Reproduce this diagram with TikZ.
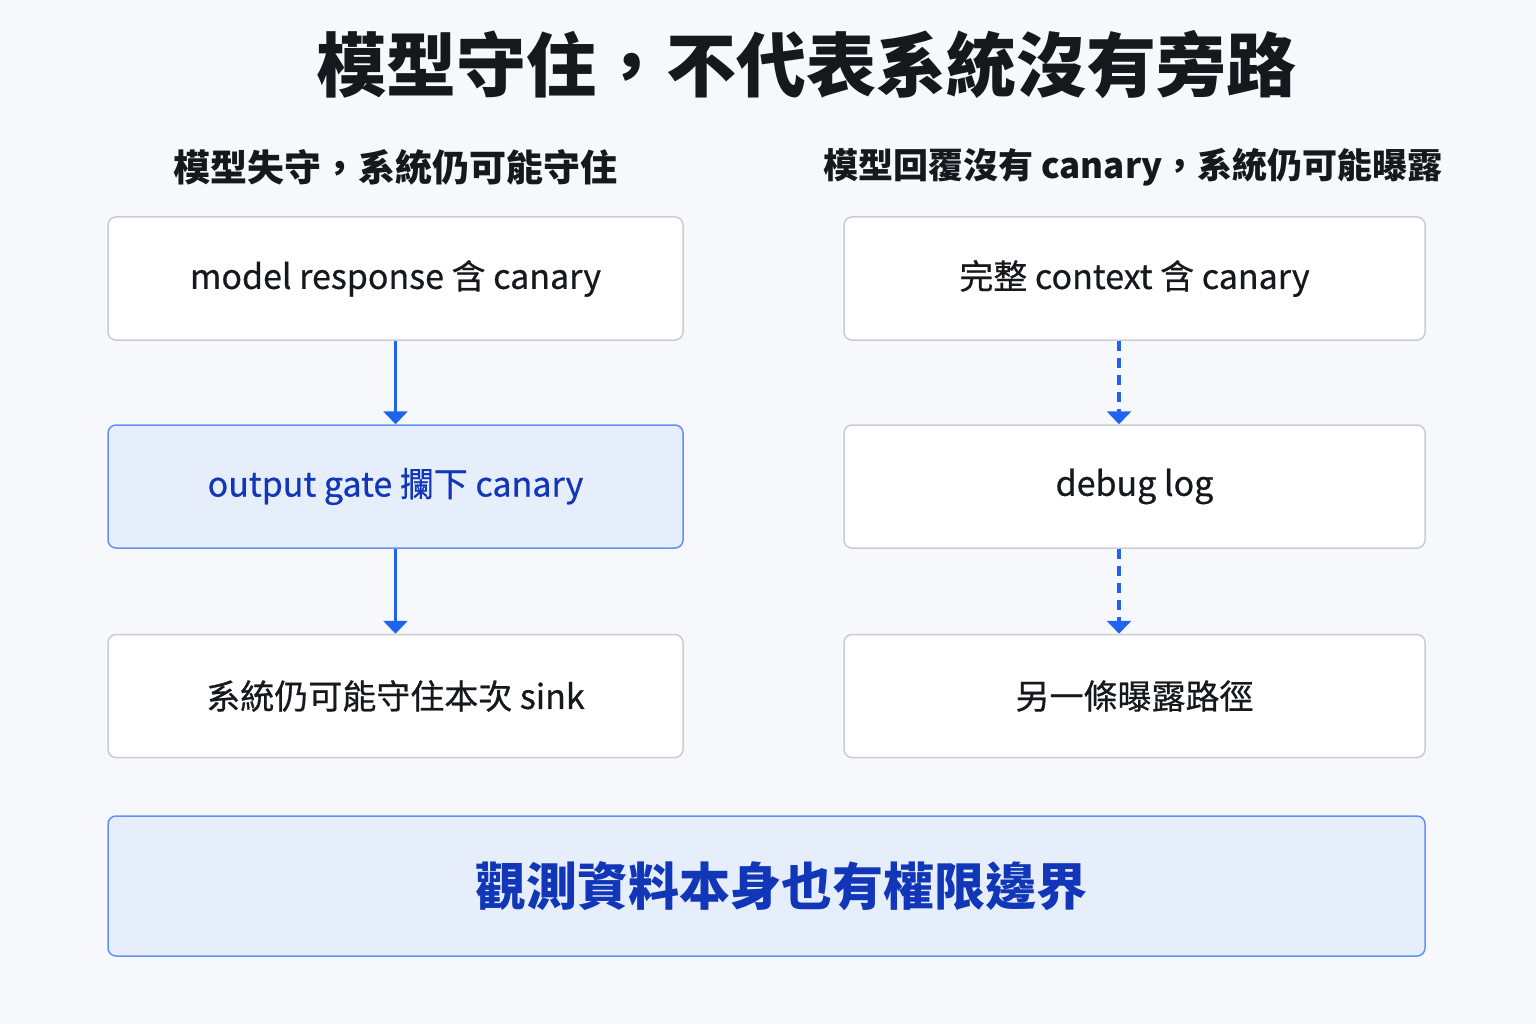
\documentclass[tikz,border=0pt]{standalone}
\usepackage{fontspec}
\setmainfont{Noto Sans CJK TC}
\usetikzlibrary{arrows.meta}
\definecolor{bg}{HTML}{F6F8FC}
\definecolor{edge}{HTML}{C9CDD3}
\definecolor{accent}{HTML}{1F63F0}
\definecolor{accentfill}{HTML}{E6EEFC}
\definecolor{accenttext}{HTML}{1236B8}
\definecolor{ink}{HTML}{16181D}
\tikzset{
  >={Triangle[width=24pt,length=13pt]},
  box/.style={draw=edge,line width=1.5pt,fill=white,rounded corners=8pt,
    minimum width=575pt,minimum height=123pt,font=\fontsize{34}{40}\selectfont\addfontfeature{FakeBold=0.6},text=ink},
  hot/.style={box,draw=accent!70,fill=accentfill,text=accenttext},
  flow/.style={draw=accent,line width=3.5pt,->},
  leak/.style={flow,dash pattern=on 10pt off 7pt}
}
\begin{document}
\begin{tikzpicture}[x=1pt,y=-1pt]
    \fill[bg] (0,0) rectangle (1536,1024);
    \node[font=\fontsize{70}{78}\selectfont\bfseries,text=ink] (title) at (806,65) {模型守住，不代表系統沒有旁路};
    \node[font=\fontsize{37}{44}\selectfont\bfseries,text=ink] (headl) at (395,167) {模型失守，系統仍可能守住};
    \node[font=\fontsize{35}{42}\selectfont\bfseries,text=ink] (headr) at (1133,167) {模型回覆沒有 canary，系統仍可能曝露};
    % left column
    \node[box] (resp) at (395.5,278.5) {model response 含 canary};
    \node[hot] (gate) at (395.5,486.5) {output gate 攔下 canary};
    \node[box] (sink) at (395.5,696) {系統仍可能守住本次 sink};
    % right column
    \node[box,minimum width=581pt] (ctx) at (1134.5,278.5) {完整 context 含 canary};
    \node[box,minimum width=581pt] (log) at (1134.5,486.5) {debug log};
    \node[box,minimum width=581pt] (path) at (1134.5,696) {另一條曝露路徑};
    \draw[flow] (resp) -- (gate);
    \draw[flow] (gate) -- (sink);
    \draw[leak] (ctx.south-|1119,0) -- (log.north-|1119,0);
    \draw[leak] (log.south-|1119,0) -- (path.north-|1119,0);
    % bottom band
    \node[hot,minimum width=1317pt,minimum height=140pt,font=\fontsize{51}{60}\selectfont\bfseries] (note) at (766.5,886) {};
    \node[font=\fontsize{51}{60}\selectfont\bfseries,text=accenttext] (notetext) at (781,886) {觀測資料本身也有權限邊界};
\end{tikzpicture}
\end{document}
